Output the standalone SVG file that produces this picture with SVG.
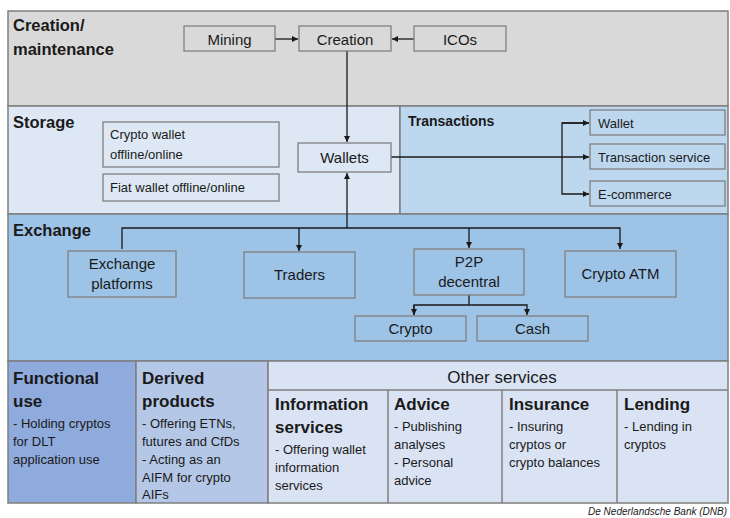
<svg xmlns="http://www.w3.org/2000/svg" width="730" height="518" viewBox="0 0 730 518">
  <defs>
    <marker id="arr" viewBox="0 0 6 6" refX="6" refY="3" markerWidth="6" markerHeight="6" orient="auto" markerUnits="userSpaceOnUse">
      <path d="M0,0 L6,3 L0,6 Z" fill="#1a1a1a"/>
    </marker>
  </defs>
  <style>
    text { font-family: "Liberation Sans", Arial, sans-serif; fill: #1a1a1a; }
    .band { stroke: #7f7f7f; stroke-width: 1.5; }
    .box { fill: none; stroke: #808080; stroke-width: 1.3; }
    .lbl { font-size: 15px; text-anchor: middle; }
    .sm { font-size: 13px; }
    .title { font-size: 16.5px; font-weight: bold; }
    .head { font-size: 17px; font-weight: bold; }
    .body { font-size: 13px; }
    .conn { fill: none; stroke: #1a1a1a; stroke-width: 1.3; }
  </style>

  <rect width="730" height="518" fill="#ffffff"/>

  <!-- Bands -->
  <g id="bands">
    <rect class="band" x="8" y="11" width="720" height="95" fill="#d9d9d9"/>
    <rect class="band" x="8" y="106" width="392" height="108" fill="#dde8f4"/>
    <rect class="band" x="400" y="106" width="328" height="108" fill="#bdd7ee"/>
    <rect class="band" x="8" y="214" width="720" height="147" fill="#9dc3e6"/>
    <rect class="band" x="8" y="361" width="128" height="142" fill="#8faadc"/>
    <rect class="band" x="136" y="361" width="132" height="142" fill="#b4c7e7"/>
    <rect class="band" x="268" y="361" width="460" height="142" fill="#dae3f3"/>
    <line class="band" x1="268" y1="390" x2="728" y2="390"/>
    <line class="band" x1="388" y1="390" x2="388" y2="503"/>
    <line class="band" x1="502" y1="390" x2="502" y2="503"/>
    <line class="band" x1="617" y1="390" x2="617" y2="503"/>
  </g>

  <!-- Band titles -->
  <g id="band-titles">
    <text class="title" x="13" y="31">Creation/</text>
    <text class="title" x="13" y="55">maintenance</text>
    <text class="title" x="13" y="128">Storage</text>
    <text class="title" x="408" y="126" style="font-size:14px">Transactions</text>
    <text class="title" x="13" y="236">Exchange</text>
  </g>

  <!-- Connectors -->
  <g id="connectors">
    <line class="conn" x1="275" y1="39" x2="298" y2="39" marker-end="url(#arr)"/>
    <line class="conn" x1="414" y1="39" x2="392" y2="39" marker-end="url(#arr)"/>
    <line class="conn" x1="347" y1="51" x2="347" y2="142" marker-end="url(#arr)"/>
    <line class="conn" x1="391" y1="157" x2="589" y2="157" marker-end="url(#arr)"/>
    <polyline class="conn" points="589,123 562,123 562,194 589,194" marker-end="url(#arr)"/>
    <line class="conn" x1="562" y1="123" x2="589" y2="123" marker-end="url(#arr)"/>
    <line class="conn" x1="347" y1="228" x2="347" y2="173" marker-end="url(#arr)"/>
    <polyline class="conn" points="122,249 122,228 620,228 620,249" marker-end="url(#arr)"/>
    <line class="conn" x1="299" y1="228" x2="299" y2="251" marker-end="url(#arr)"/>
    <line class="conn" x1="469" y1="228" x2="469" y2="248" marker-end="url(#arr)"/>
    <line class="conn" x1="469" y1="295" x2="469" y2="305"/>
    <polyline class="conn" points="414,315 414,305 527,305 527,315" marker-end="url(#arr)"/>
    <line class="conn" x1="414" y1="305" x2="414" y2="315" marker-end="url(#arr)"/>
  </g>

  <!-- Creation / maintenance -->
  <g id="mining">
    <rect class="box" x="184" y="26" width="91" height="25"/>
    <text class="lbl" x="229.5" y="44.5">Mining</text>
  </g>
  <g id="creation">
    <rect class="box" x="299" y="26" width="92" height="25"/>
    <text class="lbl" x="345" y="44.5">Creation</text>
  </g>
  <g id="icos">
    <rect class="box" x="414" y="26" width="92" height="25"/>
    <text class="lbl" x="460" y="44.5">ICOs</text>
  </g>

  <!-- Storage -->
  <g id="crypto-wallet">
    <rect class="box" x="103" y="122" width="176" height="45"/>
    <text class="sm" x="110" y="139">Crypto wallet</text>
    <text class="sm" x="110" y="159">offline/online</text>
  </g>
  <g id="fiat-wallet">
    <rect class="box" x="103" y="174" width="176" height="27"/>
    <text class="sm" x="110" y="192">Fiat wallet offline/online</text>
  </g>
  <g id="wallets">
    <rect class="box" x="298" y="143" width="93" height="29"/>
    <text class="lbl" x="344.5" y="162.5">Wallets</text>
  </g>

  <!-- Transactions -->
  <g id="tx-wallet">
    <rect class="box" x="590" y="110" width="135" height="25"/>
    <text class="sm" x="598" y="127.5">Wallet</text>
  </g>
  <g id="tx-service">
    <rect class="box" x="590" y="144" width="135" height="25"/>
    <text class="sm" x="598" y="161.5">Transaction service</text>
  </g>
  <g id="tx-ecommerce">
    <rect class="box" x="590" y="181" width="135" height="25"/>
    <text class="sm" x="598" y="198.5">E-commerce</text>
  </g>

  <!-- Exchange -->
  <g id="exchange-platforms">
    <rect class="box" x="68" y="251" width="108" height="46"/>
    <text class="lbl" x="122" y="269">Exchange</text>
    <text class="lbl" x="122" y="289">platforms</text>
  </g>
  <g id="traders">
    <rect class="box" x="244" y="252" width="111" height="46"/>
    <text class="lbl" x="299.5" y="280">Traders</text>
  </g>
  <g id="p2p">
    <rect class="box" x="414" y="249" width="110" height="46"/>
    <text class="lbl" x="469" y="267">P2P</text>
    <text class="lbl" x="469" y="287">decentral</text>
  </g>
  <g id="crypto-atm">
    <rect class="box" x="565" y="251" width="111" height="46"/>
    <text class="lbl" x="620.5" y="279">Crypto ATM</text>
  </g>
  <g id="p2p-crypto">
    <rect class="box" x="355" y="316" width="111" height="25"/>
    <text class="lbl" x="410.5" y="333.5">Crypto</text>
  </g>
  <g id="p2p-cash">
    <rect class="box" x="477" y="316" width="111" height="25"/>
    <text class="lbl" x="532.5" y="333.5">Cash</text>
  </g>

  <!-- Services row -->
  <g id="functional-use">
    <text class="head" x="13" y="384">Functional</text>
    <text class="head" x="13" y="407">use</text>
    <text class="body" x="13" y="428">- Holding cryptos</text>
    <text class="body" x="13" y="446">for DLT</text>
    <text class="body" x="13" y="464">application use</text>
  </g>
  <g id="derived-products">
    <text class="head" x="142" y="384">Derived</text>
    <text class="head" x="142" y="407">products</text>
    <text class="body" x="142" y="428">- Offering ETNs,</text>
    <text class="body" x="142" y="446">futures and CfDs</text>
    <text class="body" x="142" y="464">- Acting as an</text>
    <text class="body" x="142" y="482">AIFM for crypto</text>
    <text class="body" x="142" y="499">AIFs</text>
  </g>
  <g id="other-services">
    <text x="502" y="383" style="font-size:17px" text-anchor="middle">Other services</text>
  </g>
  <g id="information-services">
    <text class="head" x="275" y="410">Information</text>
    <text class="head" x="275" y="433">services</text>
    <text class="body" x="275" y="454">- Offering wallet</text>
    <text class="body" x="275" y="472">information</text>
    <text class="body" x="275" y="490">services</text>
  </g>
  <g id="advice">
    <text class="head" x="394" y="410">Advice</text>
    <text class="body" x="394" y="431">- Publishing</text>
    <text class="body" x="394" y="449">analyses</text>
    <text class="body" x="394" y="467">- Personal</text>
    <text class="body" x="394" y="485">advice</text>
  </g>
  <g id="insurance">
    <text class="head" x="509" y="410">Insurance</text>
    <text class="body" x="509" y="431">- Insuring</text>
    <text class="body" x="509" y="449">cryptos or</text>
    <text class="body" x="509" y="467">crypto balances</text>
  </g>
  <g id="lending">
    <text class="head" x="624" y="410">Lending</text>
    <text class="body" x="624" y="431">- Lending in</text>
    <text class="body" x="624" y="449">cryptos</text>
  </g>

  <text x="727" y="515" text-anchor="end" style="font-size:10px;font-style:italic">De Nederlandsche Bank (DNB)</text>
</svg>
